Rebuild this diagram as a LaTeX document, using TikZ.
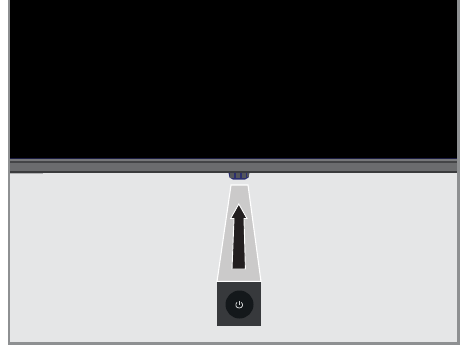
\documentclass[tikz,border=0pt]{standalone}
\definecolor{bgpanel}{HTML}{E5E6E7}
\definecolor{frameg}{HTML}{8E9092}
\definecolor{barmid}{HTML}{6B6C6E}
\definecolor{bardark}{HTML}{3A3B3D}
\definecolor{barlight}{HTML}{77787A}
\definecolor{btnblue}{HTML}{2C2F6E}
\definecolor{btngrey}{HTML}{54565A}
\definecolor{beam}{HTML}{CBCACA}
\definecolor{arrowk}{HTML}{231F20}
\definecolor{boxk}{HTML}{37393C}
\definecolor{discK}{HTML}{14181B}
\definecolor{iconw}{HTML}{D0D2D3}
\begin{document}
\begin{tikzpicture}[x=1pt,y=-1pt]
\useasboundingbox (0,0) rectangle (466,348);
\fill[white] (0,0) rectangle (466,348);
% frame and panel
\fill[frameg] (7.5,0) rectangle (459.5,344.7);
\fill[bgpanel] (10,170) rectangle (457,342);
% screen
\fill[black] (10,0) rectangle (457,158);
\fill[btnblue!60!black] (10,158) rectangle (457,158.6);
% bar
\fill[barlight] (10,158.6) rectangle (457,160.5);
\fill[bardark!80!barmid] (10,160.5) rectangle (457,162.5);
\fill[barmid] (10,162.5) rectangle (457,171);
\fill[bardark] (10,171) rectangle (457,172.8);
\fill[frameg!70!white] (10,172.8) rectangle (43,173.6);
% buttons
\fill[btnblue] (228.5,172.8) -- (249.5,172.8) -- (248.5,177.5) -- (245,179.6) -- (233,179.6) -- (229.5,177.5) -- cycle;
\fill[btngrey] (229.5,172.8) rectangle (234,177.8);
\fill[btngrey] (235.5,172.8) rectangle (240,178.3);
\fill[btngrey] (241.5,172.8) rectangle (246,178.3);
\fill[btngrey] (246.8,172.8) rectangle (248.8,176.5);
% beam
\fill[beam,draw=white,line width=1.1pt,line join=miter] (231,185) -- (248,185) -- (261,281.5) -- (217,281.5) -- cycle;
% arrow
\fill[arrowk,draw=white,line width=0.9pt,line join=miter] (238.8,204) -- (247,218.5) -- (244,218.5) -- (245.4,269) -- (232,269) -- (234,218.5) -- (230.6,218.5) -- cycle;
% power box
\fill[boxk] (217,282) rectangle (261,326);
\node[circle,fill=discK,minimum size=28pt,inner sep=0pt] (disc) at (239.5,304.5) {};
\draw[iconw,line width=0.8pt] (237,302.4) .. controls (234.8,304.4) and (235.8,308) .. (239.2,308) .. controls (242.6,308) and (243.6,304.4) .. (241.4,302.4);
\draw[iconw,line width=0.8pt] (239.2,300.6) -- (239.2,304.6);
\end{tikzpicture}
\end{document}
